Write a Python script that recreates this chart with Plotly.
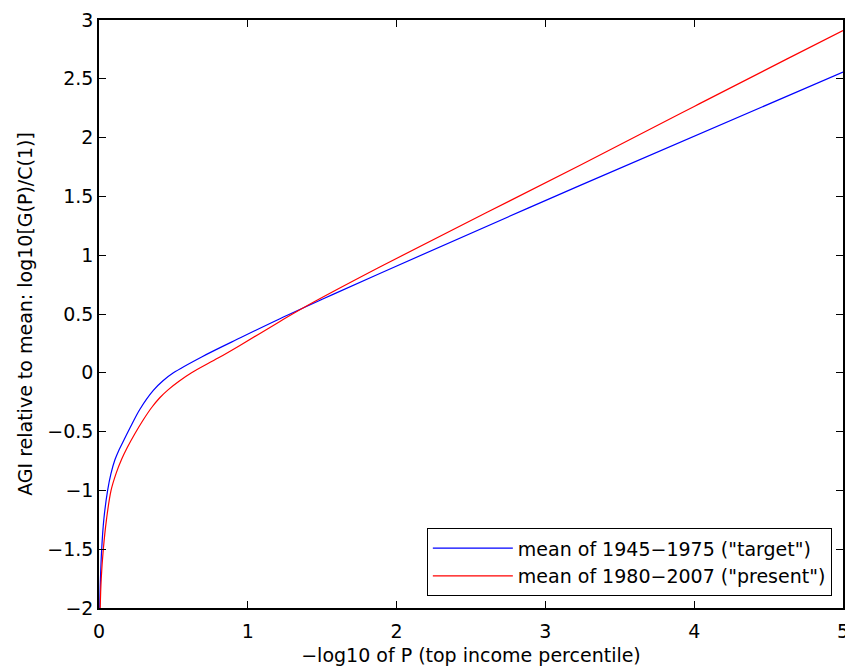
import plotly.graph_objects as go

# Data
x_target = [0.005, 0.009, 0.018, 0.033, 0.058, 0.08, 0.107, 0.135, 0.17, 0.22, 0.275, 0.365, 0.43,
            0.5, 0.69, 0.95, 1.216, 1.5, 1.887, 3.23, 5.0]
y_target = [-2.0, -1.78, -1.5, -1.24, -1.0, -0.86, -0.74, -0.655, -0.565, -0.44, -0.31, -0.15, -0.068,
            0.0, 0.135, 0.298, 0.46, 0.625, 0.845, 1.592, 2.557]

x_present = [0.008, 0.015, 0.029, 0.05, 0.081, 0.115, 0.152, 0.19, 0.24, 0.3, 0.354, 0.41, 0.466,
             0.54, 0.622, 0.8, 0.947, 1.216, 1.35, 1.887, 3.23, 4.0, 4.618, 5.0]
y_present = [-2.0, -1.75, -1.5, -1.25, -1.0, -0.855, -0.735, -0.635, -0.52, -0.395, -0.295, -0.21, -0.143,
             -0.07, 0.0, 0.125, 0.233, 0.437, 0.537, 0.9, 1.763, 2.265, 2.665, 2.91]

name_target = 'mean of 1945\u22121975 ("target")'
name_present = 'mean of 1980\u22122007 ("present")'

x_ticks = [0, 1, 2, 3, 4, 5]
y_ticks = [-2, -1.5, -1, -0.5, 0, 0.5, 1, 1.5, 2, 2.5, 3]

FONT = "DejaVu Sans, sans-serif"
FS = 19

fig = go.Figure()
fig.add_trace(go.Scatter(x=x_target, y=y_target, mode="lines", name=name_target,
                         line=dict(color="#0000ff", width=1.2, shape="spline", smoothing=1.0)))
fig.add_trace(go.Scatter(x=x_present, y=y_present, mode="lines", name=name_present,
                         line=dict(color="#ff0000", width=1.2, shape="spline", smoothing=1.0)))

axis_common = dict(showgrid=False, zeroline=False, showline=True, linecolor="black", linewidth=1.5,
                   mirror="ticks", ticks="inside", ticklen=7, tickwidth=1, tickcolor="black",
                   automargin=False,
                   tickfont=dict(family=FONT, size=FS, color="black"))

fig.update_xaxes(range=[0, 5], tickvals=x_ticks, ticktext=[str(v) for v in x_ticks],
                 ticklabelstandoff=5,
                 title=dict(text="\u2212log10 of P (top income percentile)",
                            font=dict(family=FONT, size=FS, color="black"), standoff=8),
                 **axis_common)
fig.update_yaxes(range=[-2, 3], tickvals=y_ticks,
                 ticktext=[("\u2212" + f"{abs(v):g}") if v < 0 else f"{v:g}" for v in y_ticks],
                 title=dict(text="AGI relative to mean: log10[G(P)/C(1)]",
                            font=dict(family=FONT, size=FS, color="black"), standoff=10),
                 **axis_common)

# the page body has an 8px margin, so the figure is sized/offset to compensate
fig.update_layout(
    width=845, height=663,
    margin=dict(l=91, r=10, t=12, b=63),
    plot_bgcolor="white", paper_bgcolor="white",
    font=dict(family=FONT, color="black"),
    legend=dict(x=0.985, y=0.02, xanchor="right", yanchor="bottom",
                bgcolor="white", bordercolor="black", borderwidth=1,
                font=dict(family=FONT, size=FS, color="black"),
                itemwidth=80, tracegroupgap=0),
    showlegend=True,
)

fig.write_html("out.html")
